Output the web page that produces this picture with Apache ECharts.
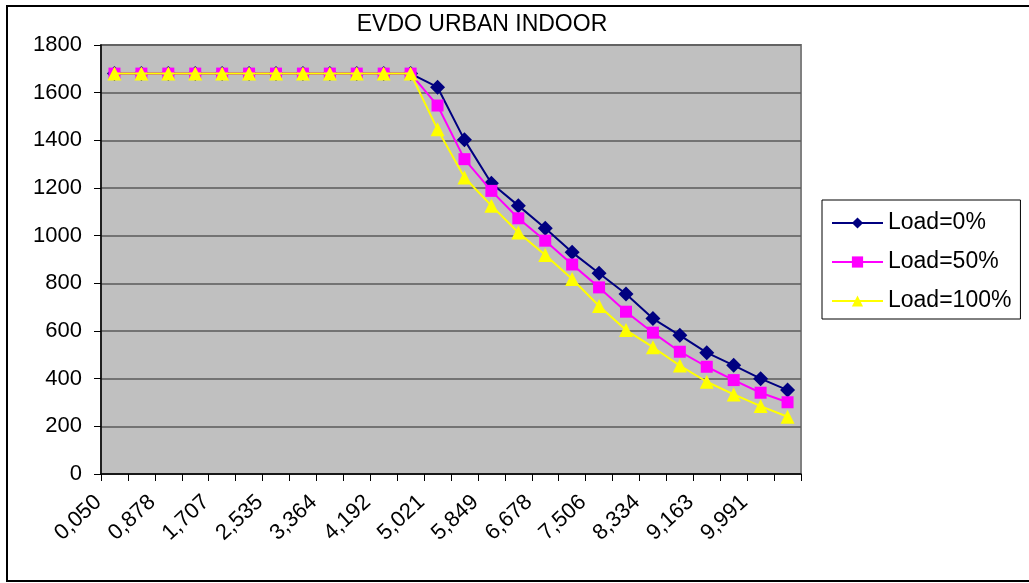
<!DOCTYPE html>
<html>
<head>
<meta charset="utf-8">
<script src="https://cdn.jsdelivr.net/npm/echarts@6/dist/echarts.min.js"></script>
<style>
  html, body { margin: 0; padding: 0; background: #ffffff; }
  #chart { width: 1029px; height: 583px; }
</style>
</head>
<body>
<div id="chart"></div>
<script>
// Category labels (distance); every other one is shown on the axis
const categories = [
  '0,050', '0,464', '0,878', '1,293', '1,707', '2,121', '2,535', '2,950', '3,364',
  '3,778', '4,192', '4,607', '5,021', '5,435', '5,849', '6,263', '6,678', '7,092',
  '7,506', '7,920', '8,334', '8,749', '9,163', '9,577', '9,991', '10,405'
];
const load0 = [
  1680, 1680, 1680, 1680, 1680, 1680, 1680, 1680, 1680, 1680, 1680, 1680,
  1623, 1402, 1220, 1126, 1031, 930, 842, 755, 652, 582, 509, 456, 400, 352
];
const load50 = [
  1680, 1680, 1680, 1680, 1680, 1680, 1680, 1680, 1680, 1680, 1680, 1680,
  1546, 1321, 1188, 1073, 979, 879, 783, 681, 593, 513, 450, 394, 341, 301
];
const load100 = [
  1680, 1680, 1680, 1680, 1680, 1680, 1680, 1680, 1680, 1680, 1680, 1680,
  1446, 1244, 1126, 1013, 919, 818, 705, 604, 532, 455, 387, 334, 285, 240
];
const yTicks = { min: 0, max: 1800, interval: 200 };
const seriesNames = ['Load=0%', 'Load=50%', 'Load=100%'];

const FONT = '"Liberation Sans", Arial, sans-serif';
const chart = echarts.init(document.getElementById('chart'), null, { renderer: 'canvas' });

chart.setOption({
  animation: false,
  backgroundColor: '#ffffff',
  title: {
    text: 'EVDO URBAN INDOOR',
    left: 477,
    top: 8,
    textAlign: 'center',
    textStyle: { fontFamily: FONT, fontSize: 23, fontWeight: 'normal', color: '#000' }
  },
  graphic: [
    {
      type: 'rect',
      shape: { x: 7, y: 6, width: 1040, height: 575 },
      style: { fill: 'none', stroke: '#000', lineWidth: 2 },
      silent: true,
      z: 100
    }
  ],
  legend: {
    orient: 'vertical',
    left: 822,
    top: 200,
    padding: [10, 9, 5, 9],
    itemGap: 13,
    itemWidth: 51,
    itemHeight: 14,
    backgroundColor: '#ffffff',
    borderColor: '#000',
    borderWidth: 1,
    data: seriesNames,
    textStyle: { fontFamily: FONT, fontSize: 23, color: '#000', lineHeight: 26 }
  },
  grid: {
    left: 101,
    top: 45,
    right: 228,
    bottom: 109,
    show: true,
    backgroundColor: '#C0C0C0',
    borderColor: '#808080',
    borderWidth: 2
  },
  xAxis: {
    type: 'category',
    data: categories,
    boundaryGap: true,
    axisLine: { lineStyle: { color: '#000', width: 1.5 } },
    axisTick: { show: true, interval: 0, length: 7, lineStyle: { color: '#000' } },
    axisLabel: {
      interval: 1,
      rotate: 43,
      margin: 10,
      padding: [0, 22, 0, 0],
      fontFamily: FONT,
      fontSize: 22,
      color: '#000'
    },
    splitLine: { show: false }
  },
  yAxis: {
    type: 'value',
    min: yTicks.min,
    max: yTicks.max,
    interval: yTicks.interval,
    axisLine: { show: true, lineStyle: { color: '#000', width: 1.5 } },
    axisTick: { show: true, length: 7, lineStyle: { color: '#000' } },
    axisLabel: {
      margin: 19, fontFamily: FONT, fontSize: 22, color: '#000',
      formatter: function (v) { return String(v); }
    },
    splitLine: { show: true, lineStyle: { color: '#5a5a5a', width: 1.5 } }
  },
  series: [
    {
      name: seriesNames[0], type: 'line', data: load0,
      symbol: 'diamond', symbolSize: 15,
      lineStyle: { color: '#000080', width: 2 },
      itemStyle: { color: '#000080' }, z: 3
    },
    {
      name: seriesNames[1], type: 'line', data: load50,
      symbol: 'rect', symbolSize: 12,
      lineStyle: { color: '#FF00FF', width: 2 },
      itemStyle: { color: '#FF00FF' }, z: 4
    },
    {
      name: seriesNames[2], type: 'line', data: load100,
      symbol: 'triangle', symbolSize: 14,
      lineStyle: { color: '#FFFF00', width: 2 },
      itemStyle: { color: '#FFFF00' }, z: 5
    }
  ]
});
</script>
</body>
</html>
